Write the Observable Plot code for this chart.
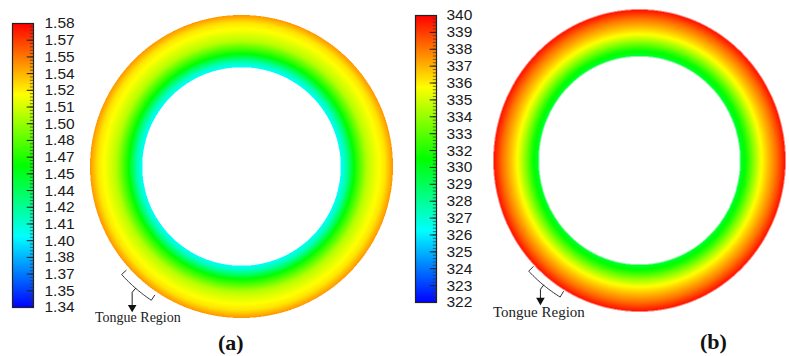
<!DOCTYPE html>
<html><head><meta charset="utf-8">
<script src="https://cdn.jsdelivr.net/npm/d3@7"></script>
<script src="https://cdn.jsdelivr.net/npm/@observablehq/plot@0.6"></script>
<style>
html,body{margin:0;padding:0;background:#fff;}
#wrap{position:relative;width:789px;height:356px;overflow:hidden;background:#fff;}
#wrap > *{position:absolute;}
.lbl{font-family:"Liberation Serif","Times New Roman",serif;color:#222;white-space:nowrap;line-height:1;}
.pan{font-weight:bold;color:#111;}
</style></head><body><div id="wrap"></div>
<script>
// ---- data ----
// colour bar tick labels (bottom -> top)
const labelsA = ["1.34","1.35","1.37","1.38","1.40","1.41","1.42","1.44","1.45","1.47","1.48","1.50","1.51","1.52","1.54","1.55","1.57","1.58"];
const labelsB = ["322","323","324","325","326","327","328","329","330","332","333","334","335","336","337","338","339","340"];
const rangeA = [1.34, 1.58];
const rangeB = [322, 340];
// colour map stops (fraction of range) and colours
const cmapStops = [0, 0.25, 0.5, 0.75, 1];
const cmapColors = ["#0000ff", "#00ffff", "#00ff00", "#ffff00", "#ff0000"];
// radial profiles: position across ring (0 = inner wall, 1 = outer wall) and value
const profPosA = [0, 0.1, 0.27, 0.5, 0.7, 0.85, 1];
const profValA = [1.40, 1.418, 1.463, 1.503, 1.518, 1.526, 1.545];
const profPosB = [0, 0.15, 0.3, 0.45, 0.6, 0.8, 1];
const profValB = [330, 331.5, 333.5, 335.3, 336.5, 338, 339.8];
// tongue region bracket: angular span (degrees, counter-clockwise from +x)
const tongueA = [222, 236];
const tongueB = [224, 239];
const panelLabels = ["(a)", "(b)"];
const tongueText = "Tongue Region";

const wrap = document.getElementById("wrap");
const sansFont = "'Liberation Sans', Arial, sans-serif";

function place(node, left, top) {
  node.style.left = left + "px";
  node.style.top = top + "px";
  wrap.appendChild(node);
}

function colorScale(lo, hi) {
  return {type: "linear", domain: cmapStops.map(s => lo + (hi - lo) * s), range: cmapColors};
}

function colorbar(labels, [lo, hi], o) {
  const n = labels.length;
  const pos = labels.map((_, i) => lo + (hi - lo) * i / (n - 1));
  const sub = 5;
  const minor = d3.range((n - 1) * sub + 1).map(k => lo + (hi - lo) * k / ((n - 1) * sub));
  return Plot.plot({
    width: o.width, height: o.height,
    marginLeft: o.ml, marginRight: o.width - o.ml - o.bw,
    marginTop: o.mt, marginBottom: o.height - o.mt - o.bh,
    x: {domain: [0, 1], axis: null},
    y: {domain: [lo, hi], axis: null},
    color: colorScale(lo, hi),
    style: {background: "transparent", overflow: "visible", fontFamily: sansFont},
    marks: [
      Plot.raster({x1: 0, x2: 1, y1: lo, y2: hi, fill: (x, y) => y, pixelSize: 0.5}),
      Plot.ruleY(minor, {x1: 0.85, x2: 1, stroke: "#333", strokeWidth: 0.7}),
      Plot.ruleY(pos, {x1: 0.7, x2: 1, stroke: "#222", strokeWidth: 1}),
      Plot.frame({stroke: "#222", strokeWidth: 1.2}),
      Plot.text(labels, {x: () => 1, y: (d, i) => pos[i], text: d => d, dx: o.pad,
        textAnchor: "start", fontSize: 15.5, fill: "#1a1a1a"})
    ]
  });
}

function ring(profPos, profVal, [lo, hi], tongue, o) {
  const prof = d3.scaleLinear().domain(profPos).range(profVal).clamp(true);
  const ri = o.ri;
  const [a0, a1] = tongue.map(d => d * Math.PI / 180);
  const am = (a0 + a1) / 2;
  const pol = (r, a) => ({x: r * Math.cos(a), y: r * Math.sin(a)});
  const bracket = [pol(o.rLeg, a0), pol(o.rLong, a0)];
  for (let k = 0; k <= 20; k++) bracket.push(pol(o.rLong, a0 + (a1 - a0) * k / 20));
  bracket.push(pol(o.rLeg, a1));
  const s0 = pol(o.rLong, am), s1 = pol(o.rStem, am);
  const tipY = o.tipY;
  const stem = [s0, s1, {x: s1.x, y: tipY + 0.03}];
  return Plot.plot({
    width: o.width, height: o.height,
    marginLeft: o.ml, marginTop: o.mt,
    marginRight: o.width - o.ml - 2 * o.Rx, marginBottom: o.height - o.mt - 2 * o.Ry,
    x: {domain: [-1, 1], axis: null},
    y: {domain: [-1, 1], axis: null},
    color: colorScale(lo, hi),
    style: {background: "transparent", overflow: "visible"},
    marks: [
      Plot.raster({x1: -1, x2: 1, y1: -1, y2: 1, pixelSize: 0.5,
        fill: (x, y) => {
          const r = Math.hypot(x, y);
          if (r > 1 || r < ri) return NaN;
          return prof((r - ri) / (1 - ri));
        }}),
      Plot.line(bracket, {x: "x", y: "y", stroke: "#333", strokeWidth: 1, clip: false}),
      Plot.line(stem, {x: "x", y: "y", stroke: "#222", strokeWidth: 1, clip: false}),
      Plot.dot([{x: s1.x, y: tipY + 0.02}], {x: "x", y: "y", symbol: "triangle", rotate: 180, r: 3.2, fill: "#111", stroke: null})
    ]
  });
}

// panel (a)
place(colorbar(labelsA, rangeA, {width: 85, height: 330, ml: 12, bw: 21, mt: 23, bh: 284, pad: 11}), 0, 0);
place(ring(profPosA, profValA, rangeA, tongueA,
  {width: 330, height: 356, ml: 9.5, mt: 14.5, Rx: 151.5, Ry: 151.5, ri: 0.655,
   rLeg: 1.025, rLong: 1.065, rStem: 1.1, tipY: -0.95}), 80, 0);
// panel (b)
place(colorbar(labelsB, rangeB, {width: 85, height: 330, ml: 15, bw: 21, mt: 15, bh: 287, pad: 10}), 400, 0);
place(ring(profPosB, profValB, rangeB, tongueB,
  {width: 304, height: 356, ml: 8, mt: 9, Rx: 146, Ry: 151, ri: 0.69,
   rLeg: 1.012, rLong: 1.055, rStem: 1.09, tipY: -0.946}), 485, 0);

function label(text, cls, size, left, top) {
  const d = document.createElement("div");
  d.className = cls;
  d.style.fontSize = size + "px";
  d.textContent = text;
  place(d, left, top);
}
label(tongueText, "lbl", 14, 95, 311);
label(tongueText, "lbl", 15, 493, 305);
label(panelLabels[0], "lbl pan", 22, 218, 332);
label(panelLabels[1], "lbl pan", 22, 700, 331);
</script></body></html>
